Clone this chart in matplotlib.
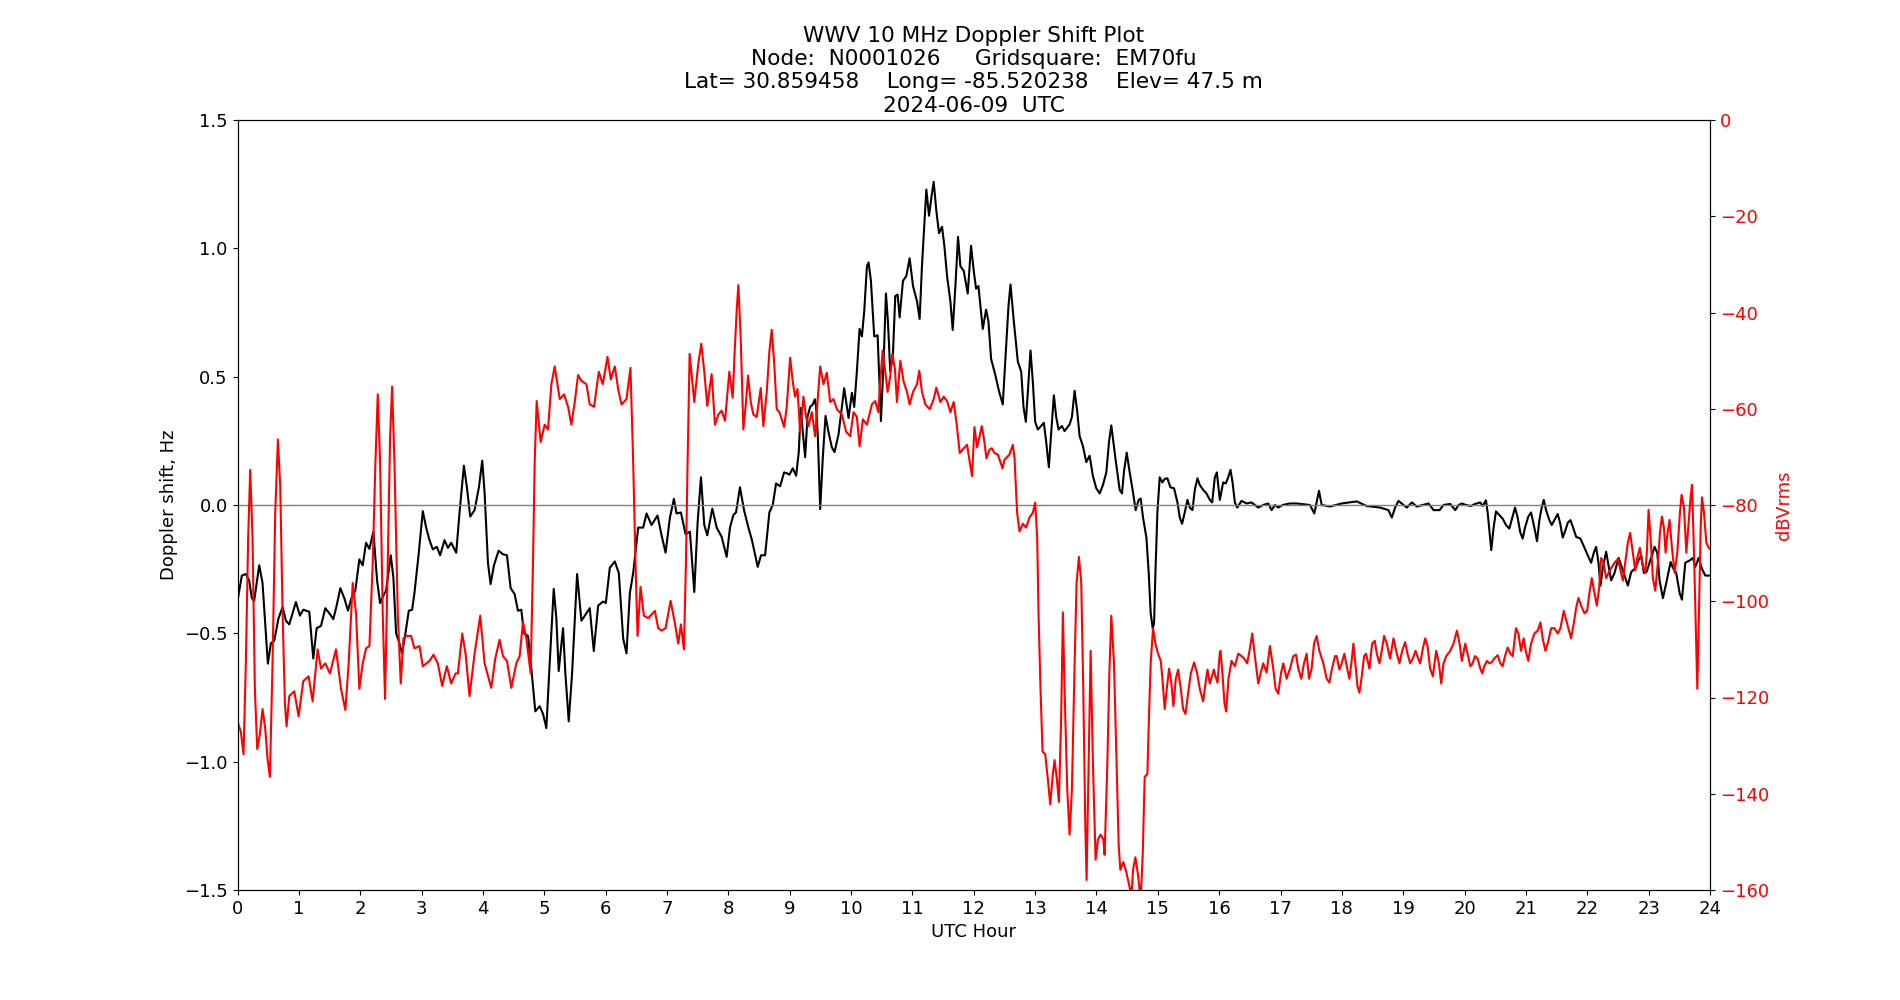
import matplotlib
matplotlib.use("Agg")
import matplotlib.pyplot as plt

# Doppler shift (Hz), hours UTC
doppler_hours = [
    0.000, 0.071, 0.136, 0.190, 0.234, 0.272, 0.354, 0.408, 0.452, 0.495, 0.544, 0.599, 0.669, 0.735,
    0.789, 0.844, 0.898, 0.952, 1.018, 1.072, 1.170, 1.235, 1.290, 1.361, 1.431, 1.497, 1.562, 1.616,
    1.676, 1.741, 1.801, 1.856, 1.921, 1.986, 2.041, 2.095, 2.150, 2.215, 2.275, 2.324, 2.378, 2.422,
    2.498, 2.541, 2.585, 2.639, 2.683, 2.737, 2.792, 2.846, 2.884, 2.955, 3.020, 3.075, 3.129, 3.184,
    3.249, 3.303, 3.374, 3.429, 3.483, 3.565, 3.619, 3.690, 3.739, 3.793, 3.864, 3.935, 3.989,
    4.027, 4.082, 4.125, 4.180, 4.256, 4.327, 4.392, 4.452, 4.517, 4.571, 4.626, 4.669, 4.735, 4.789,
    4.854, 4.925, 4.980, 5.034, 5.088, 5.154, 5.197, 5.235, 5.306, 5.344, 5.399, 5.453, 5.535, 5.605,
    5.687, 5.741, 5.807, 5.878, 5.959, 6.003, 6.068, 6.150, 6.215, 6.286, 6.340, 6.395, 6.449, 6.531,
    6.612, 6.667, 6.748, 6.846, 6.912, 6.977, 7.048, 7.113, 7.156, 7.227, 7.303, 7.374, 7.445, 7.499,
    7.554, 7.608, 7.657, 7.739, 7.810, 7.891, 7.973,
    8.027, 8.082, 8.125, 8.190, 8.256, 8.327, 8.381, 8.435, 8.479, 8.533, 8.599, 8.669, 8.724, 8.778,
    8.844, 8.909, 8.952, 8.996, 9.050, 9.105, 9.148, 9.181, 9.214, 9.252, 9.290, 9.333, 9.377, 9.410,
    9.431, 9.459, 9.497, 9.540, 9.584, 9.633, 9.687, 9.731, 9.796, 9.850, 9.888, 9.932, 9.959, 10.014,
    10.052, 10.095, 10.139, 10.177, 10.215, 10.259, 10.286, 10.324, 10.378, 10.433, 10.487, 10.531,
    10.569, 10.601, 10.639, 10.683, 10.721, 10.759, 10.792, 10.846, 10.901, 10.955, 11.010, 11.075,
    11.118, 11.156, 11.194, 11.227, 11.271, 11.314, 11.347, 11.390, 11.434, 11.483, 11.521, 11.565,
    11.619, 11.657, 11.701, 11.744, 11.782, 11.837, 11.902, 11.956,
    12.000, 12.038, 12.076, 12.147, 12.201, 12.239, 12.283, 12.348, 12.414, 12.473, 12.528, 12.566,
    12.599, 12.653, 12.718, 12.773, 12.811, 12.849, 12.882, 12.925, 12.963, 13.001, 13.045, 13.099,
    13.143, 13.181, 13.224, 13.263, 13.306, 13.344, 13.382, 13.437, 13.480, 13.562, 13.600, 13.644,
    13.687, 13.725, 13.780, 13.834, 13.888, 13.943, 13.997, 14.052, 14.106, 14.161, 14.204, 14.242,
    14.307, 14.378, 14.416, 14.449, 14.493, 14.542, 14.596, 14.639, 14.688, 14.721, 14.759, 14.814,
    14.852, 14.884, 14.917, 14.939, 14.961, 14.993, 15.031, 15.075, 15.113, 15.156, 15.205, 15.265,
    15.320, 15.358, 15.396, 15.439, 15.483, 15.521, 15.565, 15.603, 15.646, 15.684, 15.739, 15.793,
    15.848, 15.886, 15.929, 15.962, 16.011,
    16.065, 16.109, 16.147, 16.185, 16.218, 16.256, 16.294, 16.365, 16.446, 16.528, 16.637, 16.718,
    16.800, 16.854, 16.909, 16.963, 17.034, 17.154, 17.263, 17.480, 17.551, 17.589, 17.627, 17.671,
    17.807, 17.997, 18.242, 18.405, 18.623, 18.759, 18.814, 18.868, 18.922, 19.059, 19.140, 19.222,
    19.412, 19.494, 19.592, 19.657, 19.766, 19.848, 19.902, 19.956,
    20.022, 20.103, 20.169, 20.256, 20.294, 20.348, 20.376, 20.408, 20.435, 20.473, 20.512, 20.566,
    20.620, 20.675, 20.729, 20.767, 20.822, 20.865, 20.909, 20.947, 20.985, 21.039, 21.083, 21.137,
    21.181, 21.219, 21.257, 21.290, 21.328, 21.382, 21.420, 21.464, 21.518, 21.556, 21.600, 21.644,
    21.682, 21.725, 21.769, 21.818, 21.888, 21.954, 22.008, 22.063, 22.106, 22.144, 22.182, 22.215,
    22.253, 22.307, 22.346, 22.389, 22.444, 22.509, 22.552, 22.607, 22.661, 22.716, 22.786, 22.835,
    22.879, 22.922, 22.966, 23.015, 23.097, 23.140, 23.178, 23.233, 23.287, 23.358, 23.396, 23.450,
    23.505, 23.543, 23.597, 23.668, 23.722, 23.761, 23.815, 23.869, 23.924, 23.995,
]
doppler_hz = [
    -0.373, -0.275, -0.269, -0.294, -0.363, -0.373, -0.235, -0.304, -0.461, -0.618, -0.539, -0.529, -0.441, -0.398,
    -0.451, -0.465, -0.422, -0.378, -0.431, -0.408, -0.416, -0.598, -0.480, -0.471, -0.402, -0.422, -0.445, -0.392,
    -0.324, -0.363, -0.412, -0.363, -0.333, -0.212, -0.235, -0.147, -0.171, -0.104, -0.294, -0.382, -0.353, -0.333,
    -0.196, -0.284, -0.500, -0.539, -0.578, -0.500, -0.412, -0.408, -0.343, -0.186, -0.024, -0.088, -0.137, -0.173,
    -0.163, -0.196, -0.137, -0.167, -0.147, -0.186, -0.029, 0.153, 0.069, -0.045, -0.020, 0.069, 0.173,
    0.049, -0.225, -0.308, -0.235, -0.178, -0.192, -0.196, -0.324, -0.347, -0.412, -0.408, -0.500, -0.510, -0.637,
    -0.804, -0.784, -0.814, -0.869, -0.618, -0.327, -0.441, -0.647, -0.480, -0.657, -0.843, -0.657, -0.269, -0.451,
    -0.422, -0.402, -0.569, -0.392, -0.376, -0.382, -0.245, -0.220, -0.265, -0.520, -0.578, -0.343, -0.265, -0.088,
    -0.088, -0.033, -0.078, -0.041, -0.118, -0.186, -0.049, 0.024, -0.033, -0.029, -0.114, -0.104, -0.339, -0.069,
    0.108, -0.078, -0.118, -0.014, -0.088, -0.124, -0.202,
    -0.088, -0.039, -0.029, 0.069, -0.020, -0.088, -0.133, -0.192, -0.241, -0.196, -0.196, -0.029, 0.000, 0.084,
    0.073, 0.127, 0.124, 0.118, 0.143, 0.114, 0.206, 0.378, 0.284, 0.186, 0.343, 0.382, 0.392, 0.412,
    0.382, 0.265, -0.016, 0.186, 0.347, 0.284, 0.225, 0.206, 0.275, 0.382, 0.455, 0.382, 0.339, 0.437,
    0.382, 0.520, 0.686, 0.657, 0.755, 0.931, 0.945, 0.873, 0.657, 0.661, 0.327, 0.559,
    0.824, 0.716, 0.520, 0.588, 0.814, 0.820, 0.731, 0.873, 0.892, 0.961, 0.853, 0.794,
    0.725, 0.931, 1.088, 1.229, 1.127, 1.206, 1.259, 1.147, 1.059, 1.084, 1.010, 0.892,
    0.794, 0.682, 0.853, 1.045, 0.931, 0.912, 0.824, 1.010,
    0.912, 0.843, 0.853, 0.686, 0.761, 0.716, 0.569, 0.510, 0.441, 0.392, 0.618, 0.775,
    0.859, 0.716, 0.559, 0.520, 0.382, 0.324, 0.441, 0.602, 0.480, 0.324, 0.294, 0.308,
    0.320, 0.245, 0.147, 0.284, 0.427, 0.343, 0.294, 0.308, 0.288, 0.314, 0.343, 0.445,
    0.363, 0.269, 0.229, 0.167, 0.192, 0.112, 0.065, 0.045, 0.078, 0.127, 0.245, 0.310,
    0.186, 0.059, 0.045, 0.131, 0.204, 0.127, 0.049, -0.020, 0.020, 0.025, -0.049, -0.127,
    -0.265, -0.422, -0.480, -0.461, -0.265, -0.029, 0.108, 0.088, 0.102, 0.104, 0.069, 0.065,
    0.010, -0.049, -0.073, -0.029, 0.020, -0.010, -0.020, 0.059, 0.104, 0.078, 0.059, 0.045,
    0.020, 0.010, 0.108, 0.127, 0.020,
    0.088, 0.084, 0.108, 0.137, 0.088, 0.010, -0.010, 0.016, 0.006, 0.010, -0.010, 0.000,
    0.006, -0.020, 0.000, -0.010, 0.000, 0.006, 0.006, 0.000, -0.033, 0.010, 0.055, 0.000,
    -0.006, 0.006, 0.014, -0.004, -0.010, -0.020, -0.049, -0.010, 0.016, -0.010, 0.010, -0.006,
    0.006, -0.020, -0.020, 0.000, 0.004, -0.020, 0.000, 0.006,
    0.000, -0.004, 0.004, 0.010, -0.004, 0.018, -0.029, -0.108, -0.176, -0.088, -0.025, -0.039,
    -0.053, -0.078, -0.092, -0.059, -0.010, -0.049, -0.108, -0.131, -0.088, -0.045, -0.029, -0.088,
    -0.141, -0.059, -0.010, 0.020, -0.020, -0.059, -0.078, -0.059, -0.035, -0.069, -0.127, -0.098,
    -0.069, -0.059, -0.088, -0.124, -0.131, -0.167, -0.196, -0.225, -0.186, -0.163, -0.225, -0.314,
    -0.245, -0.182, -0.235, -0.294, -0.265, -0.206, -0.235, -0.275, -0.314, -0.261, -0.245, -0.216,
    -0.196, -0.265, -0.261, -0.225, -0.163, -0.186, -0.294, -0.363, -0.304, -0.222, -0.245, -0.265,
    -0.343, -0.369, -0.225, -0.216, -0.206, -0.241, -0.206, -0.249, -0.275, -0.275,
]

# Received signal level (dBVrms)
power_hours = [
    0.000, 0.054, 0.098, 0.136, 0.174, 0.207, 0.245, 0.283, 0.321, 0.365, 0.408, 0.452, 0.490, 0.528,
    0.571, 0.615, 0.659, 0.697, 0.735, 0.773, 0.800, 0.844, 0.925, 0.996, 1.072, 1.159, 1.224, 1.306,
    1.361, 1.431, 1.507, 1.605, 1.687, 1.758, 1.812, 1.878, 1.932, 1.986, 2.041, 2.095, 2.150, 2.204,
    2.248, 2.286, 2.324, 2.367, 2.405, 2.449, 2.487, 2.520, 2.558, 2.612, 2.661, 2.705, 2.748, 2.830,
    2.884, 2.966, 3.020, 3.129, 3.195, 3.265, 3.336, 3.412, 3.483, 3.554, 3.592, 3.663, 3.717, 3.782,
    3.864, 3.956,
    4.027, 4.136, 4.201, 4.272, 4.327, 4.392, 4.463, 4.544, 4.599, 4.653, 4.707, 4.778, 4.816, 4.844,
    4.876, 4.941, 5.007, 5.061, 5.116, 5.170, 5.252, 5.322, 5.388, 5.442, 5.497, 5.551, 5.605, 5.687,
    5.741, 5.812, 5.888, 5.954, 6.030, 6.084, 6.150, 6.204, 6.259, 6.340, 6.405, 6.449, 6.487, 6.520,
    6.569, 6.623, 6.694, 6.803, 6.857, 6.912, 6.977, 7.059, 7.129, 7.184, 7.227, 7.276, 7.309, 7.336,
    7.369, 7.445, 7.510, 7.559, 7.608, 7.657, 7.728, 7.782, 7.837, 7.891, 7.946,
    8.016, 8.071, 8.103, 8.136, 8.163, 8.201, 8.245, 8.288, 8.321, 8.365, 8.408, 8.463, 8.528, 8.571,
    8.626, 8.669, 8.707, 8.746, 8.789, 8.833, 8.909, 8.952, 9.007, 9.050, 9.088, 9.127, 9.170, 9.224,
    9.267, 9.306, 9.361, 9.415, 9.453, 9.497, 9.551, 9.605, 9.660, 9.714, 9.769, 9.850, 9.921, 9.986,
    10.041, 10.095, 10.139, 10.193, 10.259, 10.340, 10.395, 10.444, 10.476, 10.514, 10.558, 10.596,
    10.639, 10.672, 10.716, 10.748, 10.803, 10.857, 10.912, 10.955, 11.010, 11.075, 11.113, 11.156,
    11.211, 11.282, 11.347, 11.390, 11.456, 11.510, 11.565, 11.619, 11.673, 11.717, 11.772, 11.837,
    11.891, 11.935, 11.973,
    12.011, 12.054, 12.093, 12.131, 12.163, 12.207, 12.256, 12.294, 12.337, 12.392, 12.435, 12.468,
    12.501, 12.582, 12.637, 12.664, 12.707, 12.746, 12.800, 12.854, 12.909, 12.963, 13.001, 13.034,
    13.056, 13.088, 13.121, 13.165, 13.208, 13.246, 13.290, 13.317, 13.355, 13.388, 13.426, 13.453,
    13.480, 13.524, 13.562, 13.600, 13.644, 13.676, 13.714, 13.752, 13.785, 13.818, 13.839, 13.872,
    13.905, 13.943, 13.986, 14.024, 14.068, 14.112, 14.133, 14.177, 14.210, 14.242, 14.286, 14.329,
    14.362, 14.389, 14.438, 14.487, 14.542, 14.569, 14.596, 14.634, 14.678, 14.721, 14.754, 14.786,
    14.830, 14.857, 14.884, 14.922, 14.961, 15.004, 15.048, 15.075, 15.113, 15.146, 15.184, 15.222,
    15.254, 15.293, 15.331, 15.374, 15.412, 15.450, 15.494, 15.537, 15.592, 15.641, 15.684, 15.739,
    15.777, 15.810, 15.848, 15.913, 15.940, 15.973, 16.011,
    16.022, 16.054, 16.087, 16.114, 16.152, 16.201, 16.256, 16.310, 16.365, 16.408, 16.457, 16.501,
    16.539, 16.577, 16.637, 16.675, 16.718, 16.773, 16.827, 16.882, 16.920, 16.963, 17.007, 17.045,
    17.099, 17.154, 17.208, 17.252, 17.290, 17.339, 17.382, 17.426, 17.464, 17.507, 17.546, 17.589,
    17.633, 17.698, 17.752, 17.796, 17.839, 17.888, 17.916, 17.959, 17.997, 18.041, 18.079, 18.122,
    18.155, 18.188, 18.220, 18.253, 18.286, 18.324, 18.362, 18.395, 18.449, 18.493, 18.536, 18.569,
    18.612, 18.650, 18.688, 18.732, 18.786, 18.841, 18.895, 18.939, 18.982, 19.031, 19.069, 19.113,
    19.156, 19.200, 19.244, 19.276, 19.320, 19.358, 19.396, 19.439, 19.483, 19.537, 19.581, 19.619,
    19.657, 19.701, 19.766, 19.820, 19.875, 19.918, 19.956, 20.011,
    20.049, 20.093, 20.131, 20.169, 20.212, 20.256, 20.288, 20.321, 20.365, 20.403, 20.441, 20.484,
    20.539, 20.582, 20.620, 20.659, 20.702, 20.746, 20.784, 20.838, 20.876, 20.920, 20.963, 20.996,
    21.039, 21.083, 21.137, 21.192, 21.235, 21.273, 21.317, 21.355, 21.410, 21.464, 21.518, 21.562,
    21.616, 21.671, 21.736, 21.780, 21.818, 21.856, 21.899, 21.954, 21.997, 22.035, 22.073, 22.117,
    22.155, 22.193, 22.226, 22.264, 22.307, 22.346, 22.389, 22.444, 22.498, 22.542, 22.580, 22.618,
    22.661, 22.699, 22.743, 22.781, 22.814, 22.857, 22.901, 22.944, 22.971, 22.999, 23.031, 23.069,
    23.107, 23.151, 23.184, 23.216, 23.249, 23.276, 23.303, 23.341, 23.380, 23.423, 23.467, 23.510,
    23.537, 23.576, 23.614, 23.652, 23.684, 23.706, 23.739, 23.772, 23.793, 23.820, 23.848, 23.869,
    23.902, 23.940, 23.978, 24.000,
]
power_dbv = [
    -125.0, -127.1, -131.8, -112.9, -86.8, -72.7, -86.8, -118.2, -130.7, -127.6, -122.4, -126.5, -132.8, -136.5,
    -112.9, -81.6, -66.4, -76.3, -102.5, -121.3, -126.0, -119.7, -118.7, -123.9, -116.6, -115.6, -120.8, -110.0,
    -114.0, -112.9, -115.0, -110.0, -118.2, -122.6, -112.9, -96.2, -102.5, -118.2, -112.9, -109.8, -109.3, -92.0,
    -71.1, -57.0, -71.1, -102.5, -120.3, -92.0, -65.9, -55.4, -71.1, -102.5, -117.1, -107.7, -107.2, -107.2,
    -109.8, -109.3, -113.5, -112.4, -111.1, -112.9, -117.6, -113.5, -117.1, -115.0, -115.0, -106.7, -110.9, -119.7,
    -110.9, -103.0,
    -112.9, -118.0, -111.9, -108.0, -111.4, -112.4, -118.0, -112.9, -111.4, -104.3, -107.7, -115.0, -92.0, -71.1,
    -58.4, -66.9, -63.3, -64.3, -54.9, -51.2, -58.0, -57.0, -59.6, -63.3, -58.6, -53.0, -54.2, -54.9,
    -59.1, -59.6, -52.3, -54.9, -49.2, -53.9, -51.2, -55.9, -59.1, -58.0, -51.5, -71.1, -92.0, -107.2,
    -97.0, -103.0, -103.5, -102.0, -105.6, -106.1, -105.6, -99.9, -104.6, -108.8, -104.8, -110.0, -92.0, -71.1,
    -48.6, -58.6, -50.7, -46.5, -52.3, -59.4, -52.8, -63.3, -61.2, -60.4, -62.5,
    -52.3, -57.7, -48.1, -39.7, -34.3, -45.0, -64.3, -58.6, -53.1, -58.6, -61.2, -61.7, -55.7, -63.6,
    -56.5, -48.1, -43.6, -50.2, -60.1, -60.7, -63.8, -59.6, -49.4, -54.4, -57.5, -55.9, -64.8, -57.5,
    -61.7, -63.6, -60.7, -65.7, -58.6, -51.2, -54.9, -52.5, -58.6, -58.0, -60.1, -61.2, -64.8, -65.7,
    -60.7, -61.7, -67.8, -62.2, -63.3, -59.1, -58.4, -60.7, -54.4, -47.9, -52.3, -56.5,
    -53.3, -48.6, -51.8, -58.6, -50.0, -54.4, -56.5, -59.1, -56.5, -54.9, -52.1, -56.5,
    -59.1, -60.1, -58.0, -55.6, -58.6, -57.5, -58.4, -60.7, -58.6, -62.7, -69.2, -68.2,
    -67.5, -71.1, -74.0,
    -63.8, -68.0, -65.9, -63.6, -65.9, -70.3, -68.5, -68.2, -69.2, -69.5, -71.1, -72.4,
    -70.6, -69.5, -67.5, -70.1, -81.6, -85.5, -83.9, -84.7, -82.6, -81.6, -79.5, -86.8,
    -102.5, -118.2, -131.2, -131.8, -137.0, -142.2, -135.9, -133.0, -137.0, -141.7, -123.4, -102.3,
    -118.2, -139.1, -148.5, -139.1, -112.9, -96.2, -90.8, -96.2, -118.2, -146.4, -157.9, -133.9,
    -110.3, -133.9, -153.7, -149.5, -148.5, -149.5, -152.7, -133.9, -115.0, -103.0, -112.9, -133.9,
    -150.6, -155.8, -154.2, -156.3, -159.5, -161.6, -155.8, -153.2, -156.9, -162.1, -152.7, -136.5,
    -135.9, -123.4, -112.9, -105.6, -108.8, -110.9, -112.4, -116.1, -122.4, -118.2, -114.0, -117.1,
    -121.8, -116.1, -114.2, -118.2, -122.4, -123.4, -119.2, -115.0, -112.7, -115.0, -118.2, -120.8,
    -117.1, -114.2, -117.1, -114.2, -115.6, -116.9, -110.6,
    -110.3, -115.0, -121.3, -122.9, -116.1, -112.4, -113.5, -110.9, -111.4, -111.9, -112.9, -109.8,
    -106.7, -110.9, -117.1, -115.0, -112.9, -114.8, -109.3, -114.0, -118.2, -119.2, -115.0, -112.9,
    -116.1, -114.0, -111.4, -111.1, -114.0, -116.1, -112.9, -110.9, -116.1, -114.0, -108.8, -107.2,
    -110.3, -112.9, -116.1, -116.9, -114.0, -111.4, -111.4, -114.2, -112.9, -110.9, -113.5, -116.1,
    -112.9, -108.8, -112.9, -117.6, -119.0, -115.6, -111.4, -110.9, -114.0, -108.8, -108.2, -110.9,
    -112.9, -110.3, -107.2, -108.8, -111.9, -107.7, -110.9, -112.9, -110.3, -108.5, -110.9, -112.9,
    -111.9, -110.3, -111.9, -112.9, -109.8, -107.7, -109.3, -114.0, -115.6, -110.3, -112.9, -117.1,
    -112.9, -111.4, -110.3, -108.8, -106.1, -108.8, -112.4, -108.8,
    -110.9, -113.5, -112.9, -111.4, -111.9, -114.0, -115.0, -113.5, -112.4, -112.9, -112.7, -111.9,
    -111.2, -112.9, -113.5, -111.4, -109.6, -110.9, -111.4, -105.6, -106.7, -110.3, -107.7, -110.3,
    -112.4, -108.8, -106.7, -106.1, -104.4, -107.7, -110.3, -108.8, -105.6, -105.6, -106.7, -105.6,
    -102.0, -104.6, -107.7, -104.6, -101.4, -99.3, -100.9, -102.5, -102.0, -98.3, -95.2, -98.3,
    -100.9, -97.3, -91.0, -92.0, -95.2, -94.1, -93.1, -92.0, -91.2, -93.6, -95.7, -92.0,
    -87.8, -85.8, -89.9, -93.6, -91.0, -88.9, -92.5, -94.1, -89.9, -81.0, -86.8, -95.2,
    -97.8, -92.0, -85.8, -82.4, -84.7, -89.9, -86.3, -83.1, -88.9, -94.1, -89.9, -81.6,
    -77.9, -80.5, -89.9, -83.7, -78.4, -75.8, -89.9, -107.7, -118.2, -102.5, -84.7, -78.4,
    -81.6, -87.8, -88.9, -89.1,
]

title = ("WWV 10 MHz Doppler Shift Plot\n"
         "Node:  N0001026     Gridsquare:  EM70fu\n"
         "Lat= 30.859458    Long= -85.520238    Elev= 47.5 m\n"
         "2024-06-09  UTC")

plt.rcParams['font.size'] = 13

fig, ax = plt.subplots(figsize=(19, 10), dpi=100)
ax.plot(doppler_hours, doppler_hz, color='black', linewidth=1.5)
ax.axhline(0, color='grey', linewidth=1)
ax.set_xlim(0, 24)
ax.set_ylim(-1.5, 1.5)
ax.set_xticks(range(0, 25))
ax.set_xlabel('UTC Hour')
ax.set_ylabel('Doppler shift, Hz')
ax.set_title(title)

# signal level on the second axis
ax2 = ax.twinx()
ax2.plot(power_hours, power_dbv, color='red', linewidth=1.5)
ax2.set_ylim(-160, 0)
ax2.set_ylabel('dBVrms', color='red')
ax2.tick_params(axis='y', labelcolor='red')

fig.savefig('out.png', dpi=100)
